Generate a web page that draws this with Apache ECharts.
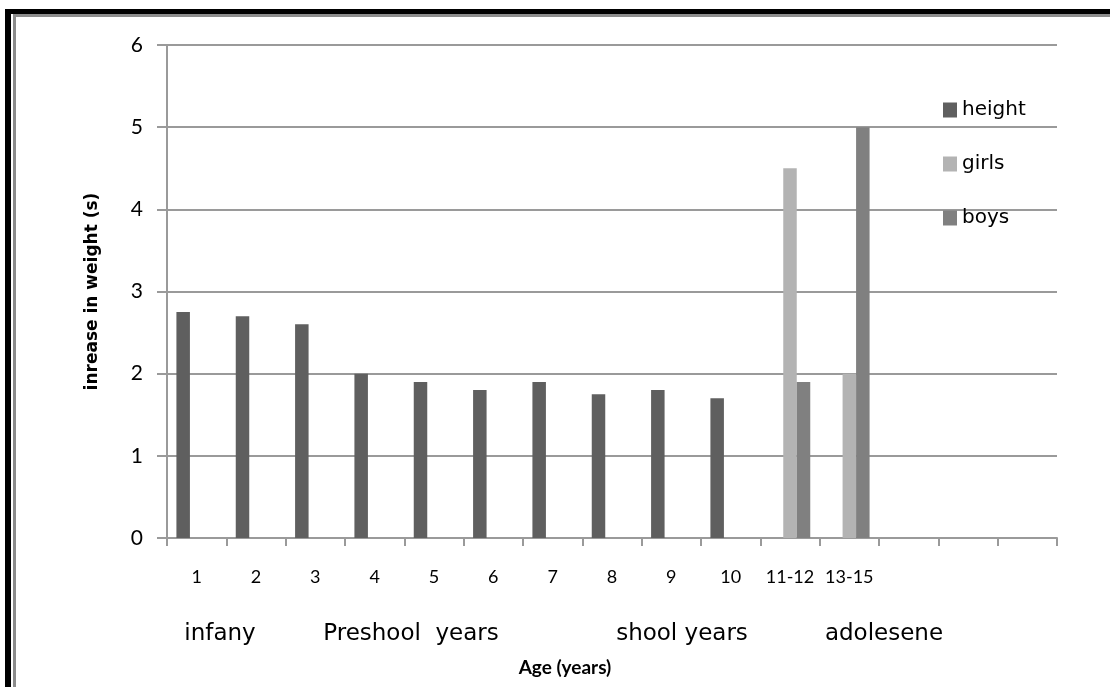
<!DOCTYPE html>
<html>
<head>
<meta charset="utf-8">
<script src="https://cdn.jsdelivr.net/npm/echarts@6/dist/echarts.min.js"></script>
<style>
  html, body { margin: 0; padding: 0; background: #fff; }
  #chart { width: 1110px; height: 687px; }
</style>
</head>
<body>
<div id="chart"></div>
<script>
// Age categories (the last three slots are left empty on the axis)
const categories = ['1', '2', '3', '4', '5', '6', '7', '8', '9', '10', '11-12', '13-15', '', '', ''];
const heightValues = [2.75, 2.7, 2.6, 2.0, 1.9, 1.8, 1.9, 1.75, 1.8, 1.7, null, null, null, null, null];
const girlsValues  = [null, null, null, null, null, null, null, null, null, null, 4.5, 2.0, null, null, null];
const boysValues   = [null, null, null, null, null, null, null, null, null, null, 1.9, 5.0, null, null, null];
const seriesNames = ['height', 'girls', 'boys'];
const yTicks = [0, 1, 2, 3, 4, 5, 6];
const stageLabels = ['infany', 'Preshool  years', 'shool years', 'adolesene'];

const FONT = 'Lato, "Open Sans", sans-serif';
const WIDE = '"DejaVu Sans", sans-serif';
const colors = ['#5f5f5f', '#b3b3b3', '#808080'];
const gridLine = '#9a9a9a';

const chart = echarts.init(document.getElementById('chart'), null, { renderer: 'canvas' });

// horizontal centres of the life-stage captions
const stageX = [220, 411, 682, 884];

const option = {
  animation: false,
  backgroundColor: '#ffffff',
  color: colors,
  textStyle: { fontFamily: FONT },
  grid: { left: 167, right: 53, top: 45, bottom: 149, containLabel: false },
  legend: {
    orient: 'vertical',
    left: 938,
    top: 95,
    itemWidth: 14,
    itemHeight: 15,
    itemGap: 34,
    icon: 'rect',
    textStyle: { fontFamily: WIDE, fontSize: 20, color: '#000' },
    data: seriesNames
  },
  xAxis: {
    type: 'category',
    data: categories,
    axisLine: { lineStyle: { color: gridLine, width: 2 } },
    axisTick: { show: true, length: 8, lineStyle: { color: gridLine, width: 2 } },
    axisLabel: { color: '#000', fontSize: 18, margin: 30, fontFamily: FONT, interval: 0 }
  },
  yAxis: {
    type: 'value',
    min: yTicks[0],
    max: yTicks[yTicks.length - 1],
    interval: 1,
    name: 'inrease in weight (s)',
    nameLocation: 'middle',
    nameGap: 66,
    nameRotate: 90,
    nameTextStyle: { fontFamily: WIDE, fontSize: 17, fontWeight: 'bold', color: '#000' },
    axisLine: { show: true, lineStyle: { color: gridLine, width: 2 } },
    axisTick: { show: true, length: 10, lineStyle: { color: gridLine, width: 2 } },
    axisLabel: { color: '#000', fontSize: 21, margin: 24, fontFamily: FONT },
    splitLine: { lineStyle: { color: gridLine, width: 2 } }
  },
  series: [
    { name: seriesNames[0], type: 'bar', data: heightValues, barWidth: 13.5, barGap: '0%' },
    { name: seriesNames[1], type: 'bar', data: girlsValues, barWidth: 13.5, barGap: '0%' },
    { name: seriesNames[2], type: 'bar', data: boysValues, barWidth: 13.5, barGap: '0%' }
  ],
  graphic: [
    // outer frame
    { type: 'rect', shape: { x: 5, y: 9, width: 1105, height: 5 }, style: { fill: '#000' }, silent: true },
    { type: 'rect', shape: { x: 5, y: 9, width: 6, height: 678 }, style: { fill: '#000' }, silent: true },
    { type: 'rect', shape: { x: 13, y: 14, width: 1097, height: 3 }, style: { fill: '#8c8c8c' }, silent: true },
    { type: 'rect', shape: { x: 13, y: 14, width: 3, height: 673 }, style: { fill: '#8c8c8c' }, silent: true },
    // life-stage captions under the age axis
    ...stageLabels.map((t, i) => ({
      type: 'text', x: stageX[i], y: 634, silent: true,
      style: { text: t, fontFamily: WIDE, fontSize: 23, fill: '#000', align: 'center', verticalAlign: 'middle' }
    })),
    {
      type: 'text', x: 565, y: 668, silent: true,
      style: { text: 'Age (years)', fontFamily: FONT, fontSize: 19, fontWeight: 'bold', fill: '#000', align: 'center', verticalAlign: 'middle' }
    }
  ]
};

chart.setOption(option);
</script>
</body>
</html>
